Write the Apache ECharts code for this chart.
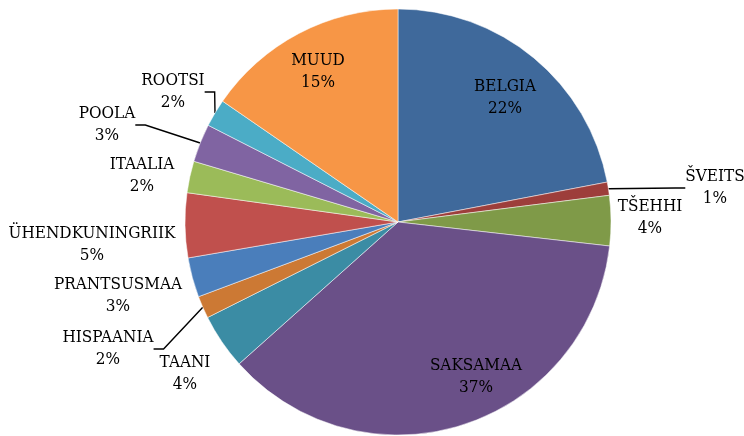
<!DOCTYPE html>
<html>
<head>
<meta charset="utf-8">
<script src="https://cdn.jsdelivr.net/npm/echarts@6/dist/echarts.min.js"></script>
<style>
    html, body { margin: 0; padding: 0; background: #fff; }
    #main { width: 744px; height: 436px; }
</style>
</head>
<body>
<div id="main"></div>
<script>
// andmed (osakaal %)
var categories = ['BELGIA', 'ŠVEITS', 'TŠEHHI', 'SAKSAMAA', 'TAANI', 'HISPAANIA',
    'PRANTSUSMAA', 'ÜHENDKUNINGRIIK', 'ITAALIA', 'POOLA', 'ROOTSI', 'MUUD'];
var values = [22.0, 1.0, 3.8, 36.6, 4.2, 1.7, 3.0, 4.9, 2.4, 2.9, 2.1, 15.4];

var colors = ['#3f699b', '#9d3e3b', '#7f9a48', '#6a5088', '#3b8ca4', '#cc7934',
    '#4a7ebb', '#c0504d', '#9bbb59', '#8064a2', '#4bacc6', '#f79646'];

// sildi keskkoht ja kas on juhtjoon
var labelPos = {
    'BELGIA': [505, 98],
    'ŠVEITS': [715, 188, true],
    'TŠEHHI': [650, 218],
    'SAKSAMAA': [476, 377],
    'TAANI': [185, 374],
    'HISPAANIA': [108, 349, true],
    'PRANTSUSMAA': [118, 296],
    'ÜHENDKUNINGRIIK': [92, 245],
    'ITAALIA': [142, 176],
    'POOLA': [107, 125, true],
    'ROOTSI': [173, 92, true],
    'MUUD': [318, 72]
};

var myChart = echarts.init(document.getElementById('main'));

var data = categories.map(function (name, i) {
    var p = labelPos[name];
    return {
        name: name,
        value: values[i],
        itemStyle: { color: colors[i] },
        labelLine: { show: !!p[2] }
    };
});

var option = {
    animation: false,
    series: [{
        type: 'pie',
        center: [398, 222],
        radius: 213,
        startAngle: 90,
        clockwise: true,
        avoidLabelOverlap: false,
        itemStyle: { borderColor: '#ffffff', borderWidth: 0.5 },
        label: {
            show: true,
            position: 'outside',
            fontFamily: '"DejaVu Serif Condensed", "DejaVu Serif", serif',
            fontSize: 17,
            lineHeight: 22,
            color: '#000',
            align: 'center',
            formatter: function (p) {
                return p.name + '\n' + Math.round(p.value) + '%';
            }
        },
        labelLine: {
            show: true,
            length: 8,
            length2: 10,
            smooth: false,
            lineStyle: { color: '#000', width: 1.4 }
        },
        labelLayout: function (params) {
            var p = labelPos[categories[params.dataIndex]];
            return {
                x: p[0],
                y: p[1],
                align: 'center',
                verticalAlign: 'middle',
                hideOverlap: false
            };
        },
        data: data
    }]
};

myChart.setOption(option);
</script>
</body>
</html>
